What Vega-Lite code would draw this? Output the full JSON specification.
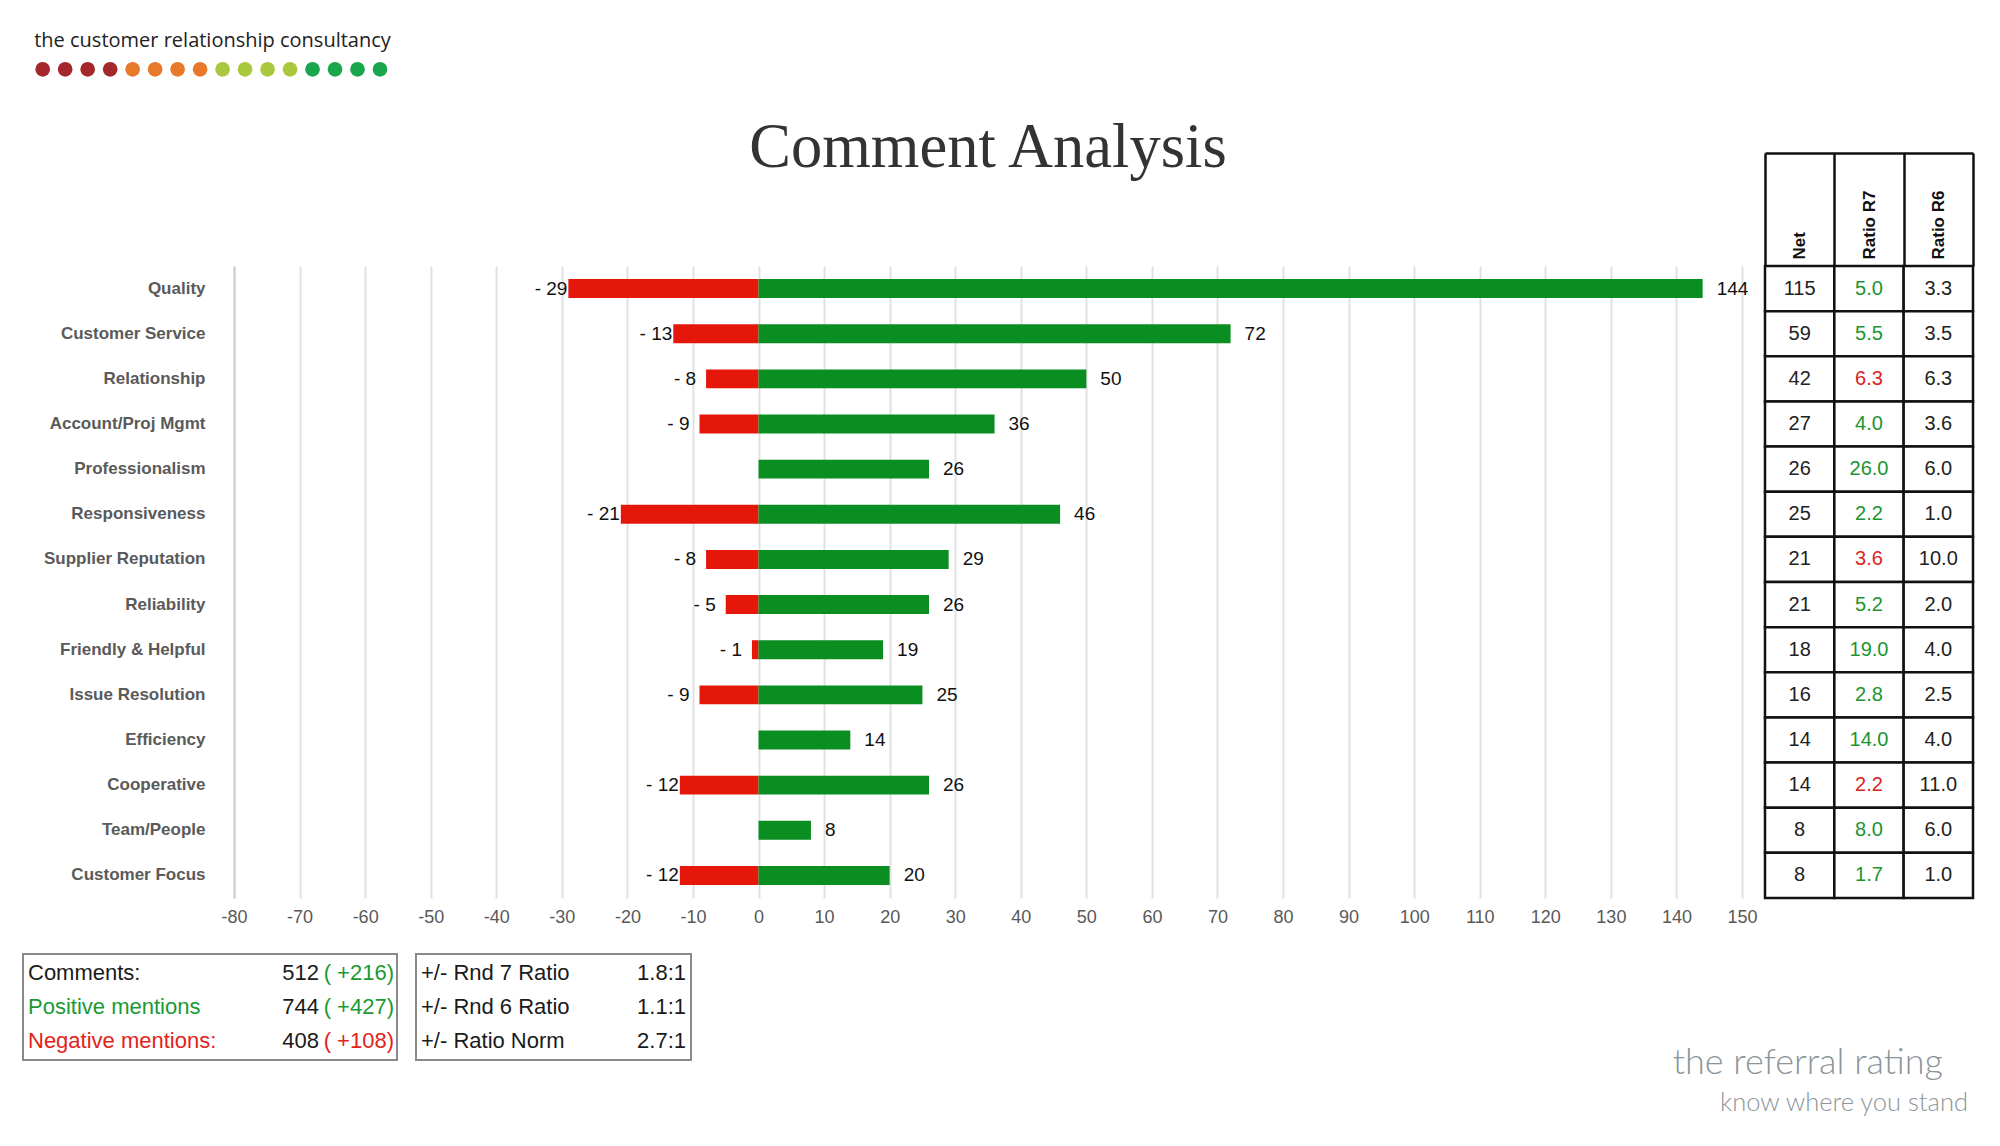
{
  "$schema": "https://vega.github.io/schema/vega-lite/v6.json",
  "width": 1508,
  "height": 632,
  "autosize": {"type": "none"},
  "padding": {"left": 234, "top": 266, "right": 258, "bottom": 248},
  "background": "#ffffff",
  "config": {"view": {"stroke": null}, "font": "Liberation Sans"},
  "title": {"text": "Comment Analysis", "font": "Liberation Serif", "fontSize": 62.5, "fontWeight": "normal", "color": "#333333", "anchor": "middle", "frame": "group", "offset": -198, "baseline": "alphabetic"},
  "datasets": {
    "rows": [
      {"cat": "Quality", "pos": 144, "neg": -29, "net": 115, "r7": 5.0, "r6": 3.3},
      {"cat": "Customer Service", "pos": 72, "neg": -13, "net": 59, "r7": 5.5, "r6": 3.5},
      {"cat": "Relationship", "pos": 50, "neg": -8, "net": 42, "r7": 6.3, "r6": 6.3},
      {"cat": "Account/Proj Mgmt", "pos": 36, "neg": -9, "net": 27, "r7": 4.0, "r6": 3.6},
      {"cat": "Professionalism", "pos": 26, "neg": 0, "net": 26, "r7": 26.0, "r6": 6.0},
      {"cat": "Responsiveness", "pos": 46, "neg": -21, "net": 25, "r7": 2.2, "r6": 1.0},
      {"cat": "Supplier Reputation", "pos": 29, "neg": -8, "net": 21, "r7": 3.6, "r6": 10.0},
      {"cat": "Reliability", "pos": 26, "neg": -5, "net": 21, "r7": 5.2, "r6": 2.0},
      {"cat": "Friendly & Helpful", "pos": 19, "neg": -1, "net": 18, "r7": 19.0, "r6": 4.0},
      {"cat": "Issue Resolution", "pos": 25, "neg": -9, "net": 16, "r7": 2.8, "r6": 2.5},
      {"cat": "Efficiency", "pos": 14, "neg": 0, "net": 14, "r7": 14.0, "r6": 4.0},
      {"cat": "Cooperative", "pos": 26, "neg": -12, "net": 14, "r7": 2.2, "r6": 11.0},
      {"cat": "Team/People", "pos": 8, "neg": 0, "net": 8, "r7": 8.0, "r6": 6.0},
      {"cat": "Customer Focus", "pos": 20, "neg": -12, "net": 8, "r7": 1.7, "r6": 1.0}
    ],
    "summary": [
      {"box": "mentions", "row": 1, "label": "Comments:", "figure": "512", "change": "( +216)", "tone": "total", "trend": "up"},
      {"box": "mentions", "row": 2, "label": "Positive mentions", "figure": "744", "change": "( +427)", "tone": "positive", "trend": "up"},
      {"box": "mentions", "row": 3, "label": "Negative mentions:", "figure": "408", "change": "( +108)", "tone": "negative", "trend": "down"},
      {"box": "ratios", "row": 1, "label": "+/- Rnd 7 Ratio", "figure": "1.8:1", "tone": "plain"},
      {"box": "ratios", "row": 2, "label": "+/- Rnd 6 Ratio", "figure": "1.1:1", "tone": "plain"},
      {"box": "ratios", "row": 3, "label": "+/- Ratio Norm", "figure": "2.7:1", "tone": "plain"}
    ],
    "dots": [
      {"dot": 1, "tone": "red"}, {"dot": 2, "tone": "red"}, {"dot": 3, "tone": "red"}, {"dot": 4, "tone": "red"},
      {"dot": 5, "tone": "orange"}, {"dot": 6, "tone": "orange"}, {"dot": 7, "tone": "orange"}, {"dot": 8, "tone": "orange"},
      {"dot": 9, "tone": "lime"}, {"dot": 10, "tone": "lime"}, {"dot": 11, "tone": "lime"}, {"dot": 12, "tone": "lime"},
      {"dot": 13, "tone": "green"}, {"dot": 14, "tone": "green"}, {"dot": 15, "tone": "green"}, {"dot": 16, "tone": "green"}
    ]
  },
  "layer": [
    {
      "data": {"name": "rows"},
      "transform": [
        {"fold": ["neg", "pos"], "as": ["sign", "mentions"]},
        {"filter": "datum.mentions != 0"},
        {"calculate": "datum.sign == 'neg' ? '- ' + (-datum.mentions) : '' + datum.mentions", "as": "tag"}
      ],
      "encoding": {
        "y": {"field": "cat", "type": "nominal", "sort": null,
          "scale": {"paddingInner": 0.58, "paddingOuter": 0.29},
          "axis": {"title": null, "ticks": false, "domain": true, "domainColor": "#cdcdd1", "domainWidth": 2, "labelFont": "Liberation Sans", "labelFontSize": 17, "labelFontWeight": "bold", "labelColor": "#5a5a5a", "labelPadding": 29, "labelLimit": 300}},
        "x": {"field": "mentions", "type": "quantitative",
          "scale": {"domain": [-80, 150], "nice": false},
          "axis": {"title": null, "values": [-80, -70, -60, -50, -40, -30, -20, -10, 0, 10, 20, 30, 40, 50, 60, 70, 80, 90, 100, 110, 120, 130, 140, 150], "labelExpr": "'' + datum.value", "grid": true, "gridColor": "#e1e1e1", "gridWidth": 2, "domain": false, "ticks": false, "labelFont": "Liberation Sans Narrow, Liberation Sans", "labelFontSize": 18, "labelColor": "#595959", "labelPadding": 10, "labelFlush": false}}
      },
      "layer": [
        {"mark": {"type": "bar"},
          "encoding": {"color": {"field": "sign", "type": "nominal", "scale": {"domain": ["neg", "pos"], "range": ["#e5170b", "#0a8d21"]}, "legend": null}}},
        {"transform": [{"filter": "datum.sign == 'neg' && datum.mentions <= -10"}],
          "mark": {"type": "text", "align": "right", "baseline": "middle", "dx": -1, "fontSize": 19, "color": "#111111"},
          "encoding": {"text": {"field": "tag"}}},
        {"transform": [{"filter": "datum.sign == 'neg' && datum.mentions > -10"}],
          "mark": {"type": "text", "align": "right", "baseline": "middle", "dx": -10, "fontSize": 19, "color": "#111111"},
          "encoding": {"text": {"field": "tag"}}},
        {"transform": [{"filter": "datum.sign == 'pos'"}],
          "mark": {"type": "text", "align": "left", "baseline": "middle", "dx": 14, "fontSize": 19, "color": "#111111"},
          "encoding": {"text": {"field": "tag"}}}
      ]
    },
    {
      "data": {"name": "rows"},
      "transform": [
        {"fold": ["net", "r7", "r6"], "as": ["col", "val"]},
        {"calculate": "datum.col == 'net' ? format(datum.val, 'd') : format(datum.val, '.1f')", "as": "txt"}
      ],
      "encoding": {
        "x": {"field": "col", "type": "nominal",
          "scale": {"type": "band", "domain": ["net", "r7", "r6"], "range": [1531, 1739], "paddingInner": 0, "paddingOuter": 0},
          "axis": {"orient": "top", "offset": 113, "tickSize": -113, "tickBand": "extent", "tickColor": "#111111", "tickWidth": 2.5, "domainColor": "#111111", "domainWidth": 2.5, "labelAngle": 270, "labelAlign": "left", "labelBaseline": "middle", "labelFontSize": 17, "labelFontWeight": "bold", "labelColor": "#111111", "labelPadding": 7, "labelExpr": "datum.value == 'net' ? 'Net' : datum.value == 'r7' ? 'Ratio R7' : datum.value == 'r6' ? 'Ratio R6' : ''", "title": null, "grid": false}},
        "y": {"field": "cat", "type": "nominal", "sort": null,
          "scale": {"type": "band", "paddingInner": 0, "paddingOuter": 0}, "axis": null}
      },
      "layer": [
        {"mark": {"type": "rect", "fill": "#ffffff", "stroke": "#111111", "strokeWidth": 2.5}},
        {"mark": {"type": "text", "fontSize": 20, "baseline": "middle"},
          "encoding": {"text": {"field": "txt"},
            "color": {"condition": [{"test": "datum.col == 'r7' && datum.r7 > datum.r6", "value": "#1b9530"}, {"test": "datum.col == 'r7'", "value": "#dc2323"}], "value": "#222222"}}}
      ]
    },
    {
      "layer": [
        {"data": {"name": "dots"},
          "mark": {"type": "point", "filled": true, "opacity": 1, "size": 215},
          "encoding": {
            "x": {"field": "dot", "type": "ordinal", "scale": {"type": "point", "padding": 0, "range": [-191.3, 146]}, "axis": null},
            "y": {"datum": "dots", "type": "ordinal", "scale": {"type": "point", "domain": ["name", "dots"], "range": [-219, -196.7], "padding": 0}, "axis": null},
            "color": {"field": "tone", "type": "nominal", "scale": {"domain": ["red", "orange", "lime", "green"], "range": ["#a4282b", "#e8782a", "#a9c83d", "#1aa64c"]}, "legend": null}
          }},
        {"data": {"values": [{"brand": "the customer relationship consultancy"}]},
          "mark": {"type": "text", "align": "left", "baseline": "alphabetic", "dx": -8.5, "font": "Open Sans", "fontSize": 20, "color": "#222222"},
          "encoding": {
            "x": {"datum": 1, "type": "ordinal", "scale": {"type": "point", "padding": 0, "range": [-191.3, 146]}, "axis": null},
            "y": {"datum": "name", "type": "ordinal", "scale": {"type": "point", "domain": ["name", "dots"], "range": [-219, -196.7], "padding": 0}, "axis": null},
            "text": {"field": "brand"}
          }}
      ]
    },
    {
      "data": {"values": [{"line": "name", "words": "the referral rating"}, {"line": "motto", "words": "know where you stand"}]},
      "mark": {"type": "text", "align": "right", "baseline": "alphabetic", "font": "Lato", "fontWeight": 300, "color": "#8b959a"},
      "encoding": {
        "x": {"field": "line", "type": "ordinal", "scale": {"type": "point", "domain": ["name", "motto"], "range": [1709, 1734], "padding": 0}, "axis": null},
        "y": {"field": "line", "type": "ordinal", "scale": {"type": "point", "domain": ["name", "motto"], "range": [808, 845], "padding": 0}, "axis": null},
        "size": {"field": "line", "type": "ordinal", "scale": {"domain": ["name", "motto"], "range": [36, 25.5]}, "legend": null},
        "text": {"field": "words"}
      }
    },
    {
      "data": {"name": "summary"},
      "transform": [{"filter": "datum.box == 'mentions' && datum.row == 1"}],
      "mark": {"type": "rect", "fill": "#ffffff", "stroke": "#8a8a8a", "strokeWidth": 2},
      "encoding": {
        "x": {"field": "box", "type": "nominal", "scale": {"type": "band", "domain": ["mentions", "ratios"], "range": [-211, 537], "paddingInner": 0, "paddingOuter": 0}, "axis": null},
        "y": {"field": "box", "type": "nominal", "scale": {"type": "band", "domain": ["mentions"], "range": [688, 794], "paddingInner": 0, "paddingOuter": 0}, "axis": null}
      }
    },
    {
      "data": {"name": "summary"},
      "transform": [{"filter": "datum.box == 'ratios' && datum.row == 1"}],
      "mark": {"type": "rect", "fill": "#ffffff", "stroke": "#8a8a8a", "strokeWidth": 2},
      "encoding": {
        "x": {"field": "box", "type": "nominal", "scale": {"type": "band", "domain": ["mentions", "ratios"], "range": [-93, 457], "paddingInner": 0, "paddingOuter": 0}, "axis": null},
        "y": {"field": "box", "type": "nominal", "scale": {"type": "band", "domain": ["ratios"], "range": [688, 794], "paddingInner": 0, "paddingOuter": 0}, "axis": null}
      }
    },
    {
      "data": {"name": "summary"},
      "mark": {"type": "text", "align": "left", "baseline": "middle", "fontSize": 22},
      "encoding": {
        "x": {"field": "box", "type": "nominal", "scale": {"type": "point", "domain": ["mentions", "ratios"], "range": [-206, 187], "padding": 0}, "axis": null},
        "y": {"field": "row", "type": "ordinal", "scale": {"type": "point", "domain": [1, 2, 3], "range": [707, 775], "padding": 0}, "axis": null},
        "color": {"field": "tone", "type": "nominal", "scale": {"domain": ["total", "positive", "negative", "plain"], "range": ["#1a1a1a", "#1a9a33", "#e2231a", "#1a1a1a"]}, "legend": null},
        "text": {"field": "label"}
      }
    },
    {
      "data": {"name": "summary"},
      "mark": {"type": "text", "align": "right", "baseline": "middle", "fontSize": 22, "color": "#1a1a1a"},
      "encoding": {
        "x": {"field": "box", "type": "nominal", "scale": {"type": "point", "domain": ["mentions", "ratios"], "range": [85, 452], "padding": 0}, "axis": null},
        "y": {"field": "row", "type": "ordinal", "scale": {"type": "point", "domain": [1, 2, 3], "range": [707, 775], "padding": 0}, "axis": null},
        "text": {"field": "figure"}
      }
    },
    {
      "data": {"name": "summary"},
      "transform": [{"filter": "datum.box == 'mentions'"}],
      "mark": {"type": "text", "align": "right", "baseline": "middle", "fontSize": 22},
      "encoding": {
        "x": {"field": "box", "type": "nominal", "scale": {"type": "point", "domain": ["mentions", "ratios"], "range": [160, 527], "padding": 0}, "axis": null},
        "y": {"field": "row", "type": "ordinal", "scale": {"type": "point", "domain": [1, 2, 3], "range": [707, 775], "padding": 0}, "axis": null},
        "color": {"field": "trend", "type": "nominal", "scale": {"domain": ["up", "down"], "range": ["#1a9a33", "#e2231a"]}, "legend": null},
        "text": {"field": "change"}
      }
    }
  ],
  "resolve": {"scale": {"x": "independent", "y": "independent", "color": "independent", "size": "independent"}}
}
